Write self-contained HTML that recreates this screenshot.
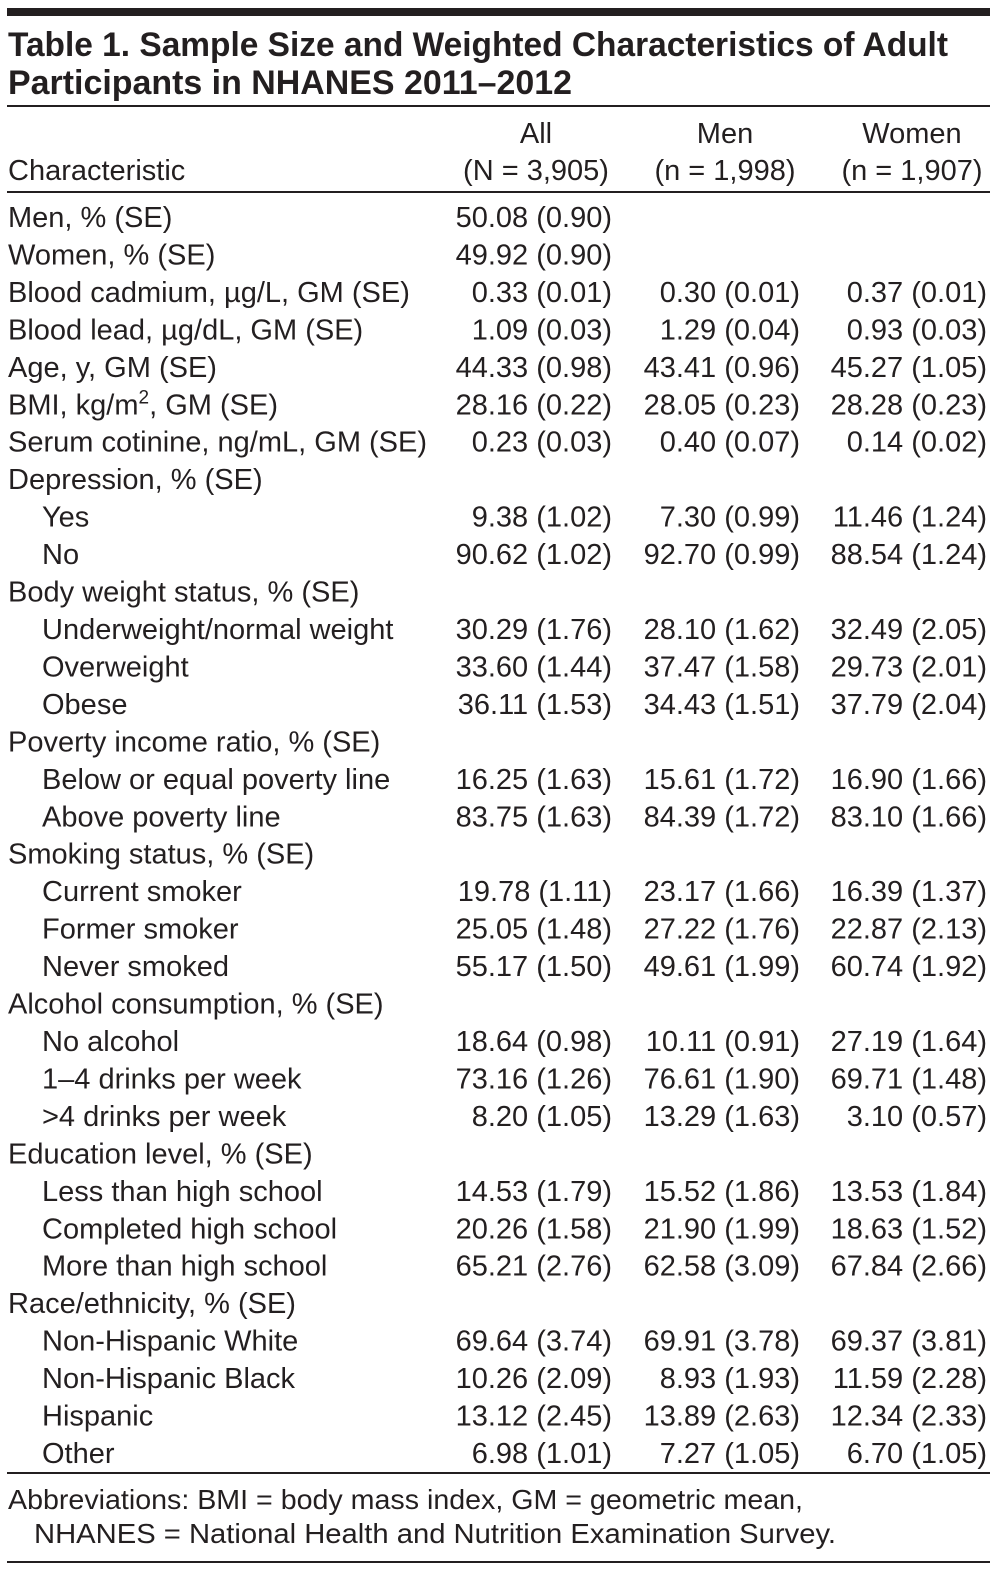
<!DOCTYPE html>
<html><head><meta charset="utf-8"><style>
html,body{margin:0;padding:0;background:#fff;}
svg{display:block;}
text{font-family:"Liberation Sans",sans-serif;fill:#231f20;}
</style></head><body>
<svg id="t" width="998" height="1571" viewBox="0 0 998 1571" xmlns="http://www.w3.org/2000/svg">
<rect x="7" y="8" width="983" height="8" fill="#231f20"/>
<text x="8" y="56" font-size="34" font-weight="bold" textLength="940" lengthAdjust="spacingAndGlyphs">Table 1. Sample Size and Weighted Characteristics of Adult</text>
<text x="8" y="94" font-size="34" font-weight="bold" textLength="564" lengthAdjust="spacingAndGlyphs">Participants in NHANES 2011–2012</text>
<rect x="7" y="105" width="983" height="2" fill="#231f20"/>
<text x="8" y="180" font-size="29">Characteristic</text>
<text x="536" y="143" font-size="29" text-anchor="middle">All</text>
<text x="536" y="180" font-size="29" text-anchor="middle">(N = 3,905)</text>
<text x="725" y="143" font-size="29" text-anchor="middle">Men</text>
<text x="725" y="180" font-size="29" text-anchor="middle">(n = 1,998)</text>
<text x="912" y="143" font-size="29" text-anchor="middle">Women</text>
<text x="912" y="180" font-size="29" text-anchor="middle">(n = 1,907)</text>
<rect x="7" y="191" width="983" height="2" fill="#231f20"/>
<g id="rows"></g>
<rect x="7" y="1472" width="983" height="2" fill="#231f20"/>
<text x="8" y="1509" font-size="28" textLength="795" lengthAdjust="spacingAndGlyphs">Abbreviations: BMI = body mass index, GM = geometric mean,</text>
<text x="34" y="1543" font-size="28" textLength="802" lengthAdjust="spacingAndGlyphs">NHANES = National Health and Nutrition Examination Survey.</text>
<rect x="7" y="1561" width="983" height="2" fill="#231f20"/>
</svg>
<script>
const labels = ["Men, % (SE)","Women, % (SE)","Blood cadmium, µg/L, GM (SE)","Blood lead, µg/dL, GM (SE)","Age, y, GM (SE)","BMI, kg/m²","Serum cotinine, ng/mL, GM (SE)","Depression, % (SE)","Yes","No","Body weight status, % (SE)","Underweight/normal weight","Overweight","Obese","Poverty income ratio, % (SE)","Below or equal poverty line","Above poverty line","Smoking status, % (SE)","Current smoker","Former smoker","Never smoked","Alcohol consumption, % (SE)","No alcohol","1–4 drinks per week",">4 drinks per week","Education level, % (SE)","Less than high school","Completed high school","More than high school","Race/ethnicity, % (SE)","Non-Hispanic White","Non-Hispanic Black","Hispanic","Other"];
const indent = [0,0,0,0,0,0,0,0,1,1,0,1,1,1,0,1,1,0,1,1,1,0,1,1,1,0,1,1,1,0,1,1,1,1];
const allVals = ["50.08 (0.90)","49.92 (0.90)","0.33 (0.01)","1.09 (0.03)","44.33 (0.98)","28.16 (0.22)","0.23 (0.03)","","9.38 (1.02)","90.62 (1.02)","","30.29 (1.76)","33.60 (1.44)","36.11 (1.53)","","16.25 (1.63)","83.75 (1.63)","","19.78 (1.11)","25.05 (1.48)","55.17 (1.50)","","18.64 (0.98)","73.16 (1.26)","8.20 (1.05)","","14.53 (1.79)","20.26 (1.58)","65.21 (2.76)","","69.64 (3.74)","10.26 (2.09)","13.12 (2.45)","6.98 (1.01)"];
const menVals = ["","","0.30 (0.01)","1.29 (0.04)","43.41 (0.96)","28.05 (0.23)","0.40 (0.07)","","7.30 (0.99)","92.70 (0.99)","","28.10 (1.62)","37.47 (1.58)","34.43 (1.51)","","15.61 (1.72)","84.39 (1.72)","","23.17 (1.66)","27.22 (1.76)","49.61 (1.99)","","10.11 (0.91)","76.61 (1.90)","13.29 (1.63)","","15.52 (1.86)","21.90 (1.99)","62.58 (3.09)","","69.91 (3.78)","8.93 (1.93)","13.89 (2.63)","7.27 (1.05)"];
const womenVals = ["","","0.37 (0.01)","0.93 (0.03)","45.27 (1.05)","28.28 (0.23)","0.14 (0.02)","","11.46 (1.24)","88.54 (1.24)","","32.49 (2.05)","29.73 (2.01)","37.79 (2.04)","","16.90 (1.66)","83.10 (1.66)","","16.39 (1.37)","22.87 (2.13)","60.74 (1.92)","","27.19 (1.64)","69.71 (1.48)","3.10 (0.57)","","13.53 (1.84)","18.63 (1.52)","67.84 (2.66)","","69.37 (3.81)","11.59 (2.28)","12.34 (2.33)","6.70 (1.05)"];
const NS="http://www.w3.org/2000/svg";
const g=document.getElementById('rows');
const y0=227, dy=(1463-227)/33;
function txt(x,y,s,anchor){const t=document.createElementNS(NS,'text');t.setAttribute('x',x);t.setAttribute('y',y);t.setAttribute('font-size','29');if(anchor)t.setAttribute('text-anchor',anchor);t.textContent=s;g.appendChild(t);return t;}
labels.forEach((l,i)=>{
  const y=y0+i*dy;
  let t;
  if(l==="BMI, kg/m²"){
    t=document.createElementNS(NS,'text');t.setAttribute('x',8);t.setAttribute('y',y);t.setAttribute('font-size','29');
    t.innerHTML='BMI, kg/m<tspan font-size="19" dy="-11">2</tspan><tspan dy="11">, GM (SE)</tspan>';g.appendChild(t);
  } else t=txt(indent[i]?42:8,y,l);
  
  
  if(allVals[i]){const a=txt(612,y,allVals[i],'end');
    
    }
  if(menVals[i]){const m=txt(800,y,menVals[i],'end');
    
    }
  if(womenVals[i]){const w=txt(987,y,womenVals[i],'end');
    
    }
});
</script>
</body></html>
